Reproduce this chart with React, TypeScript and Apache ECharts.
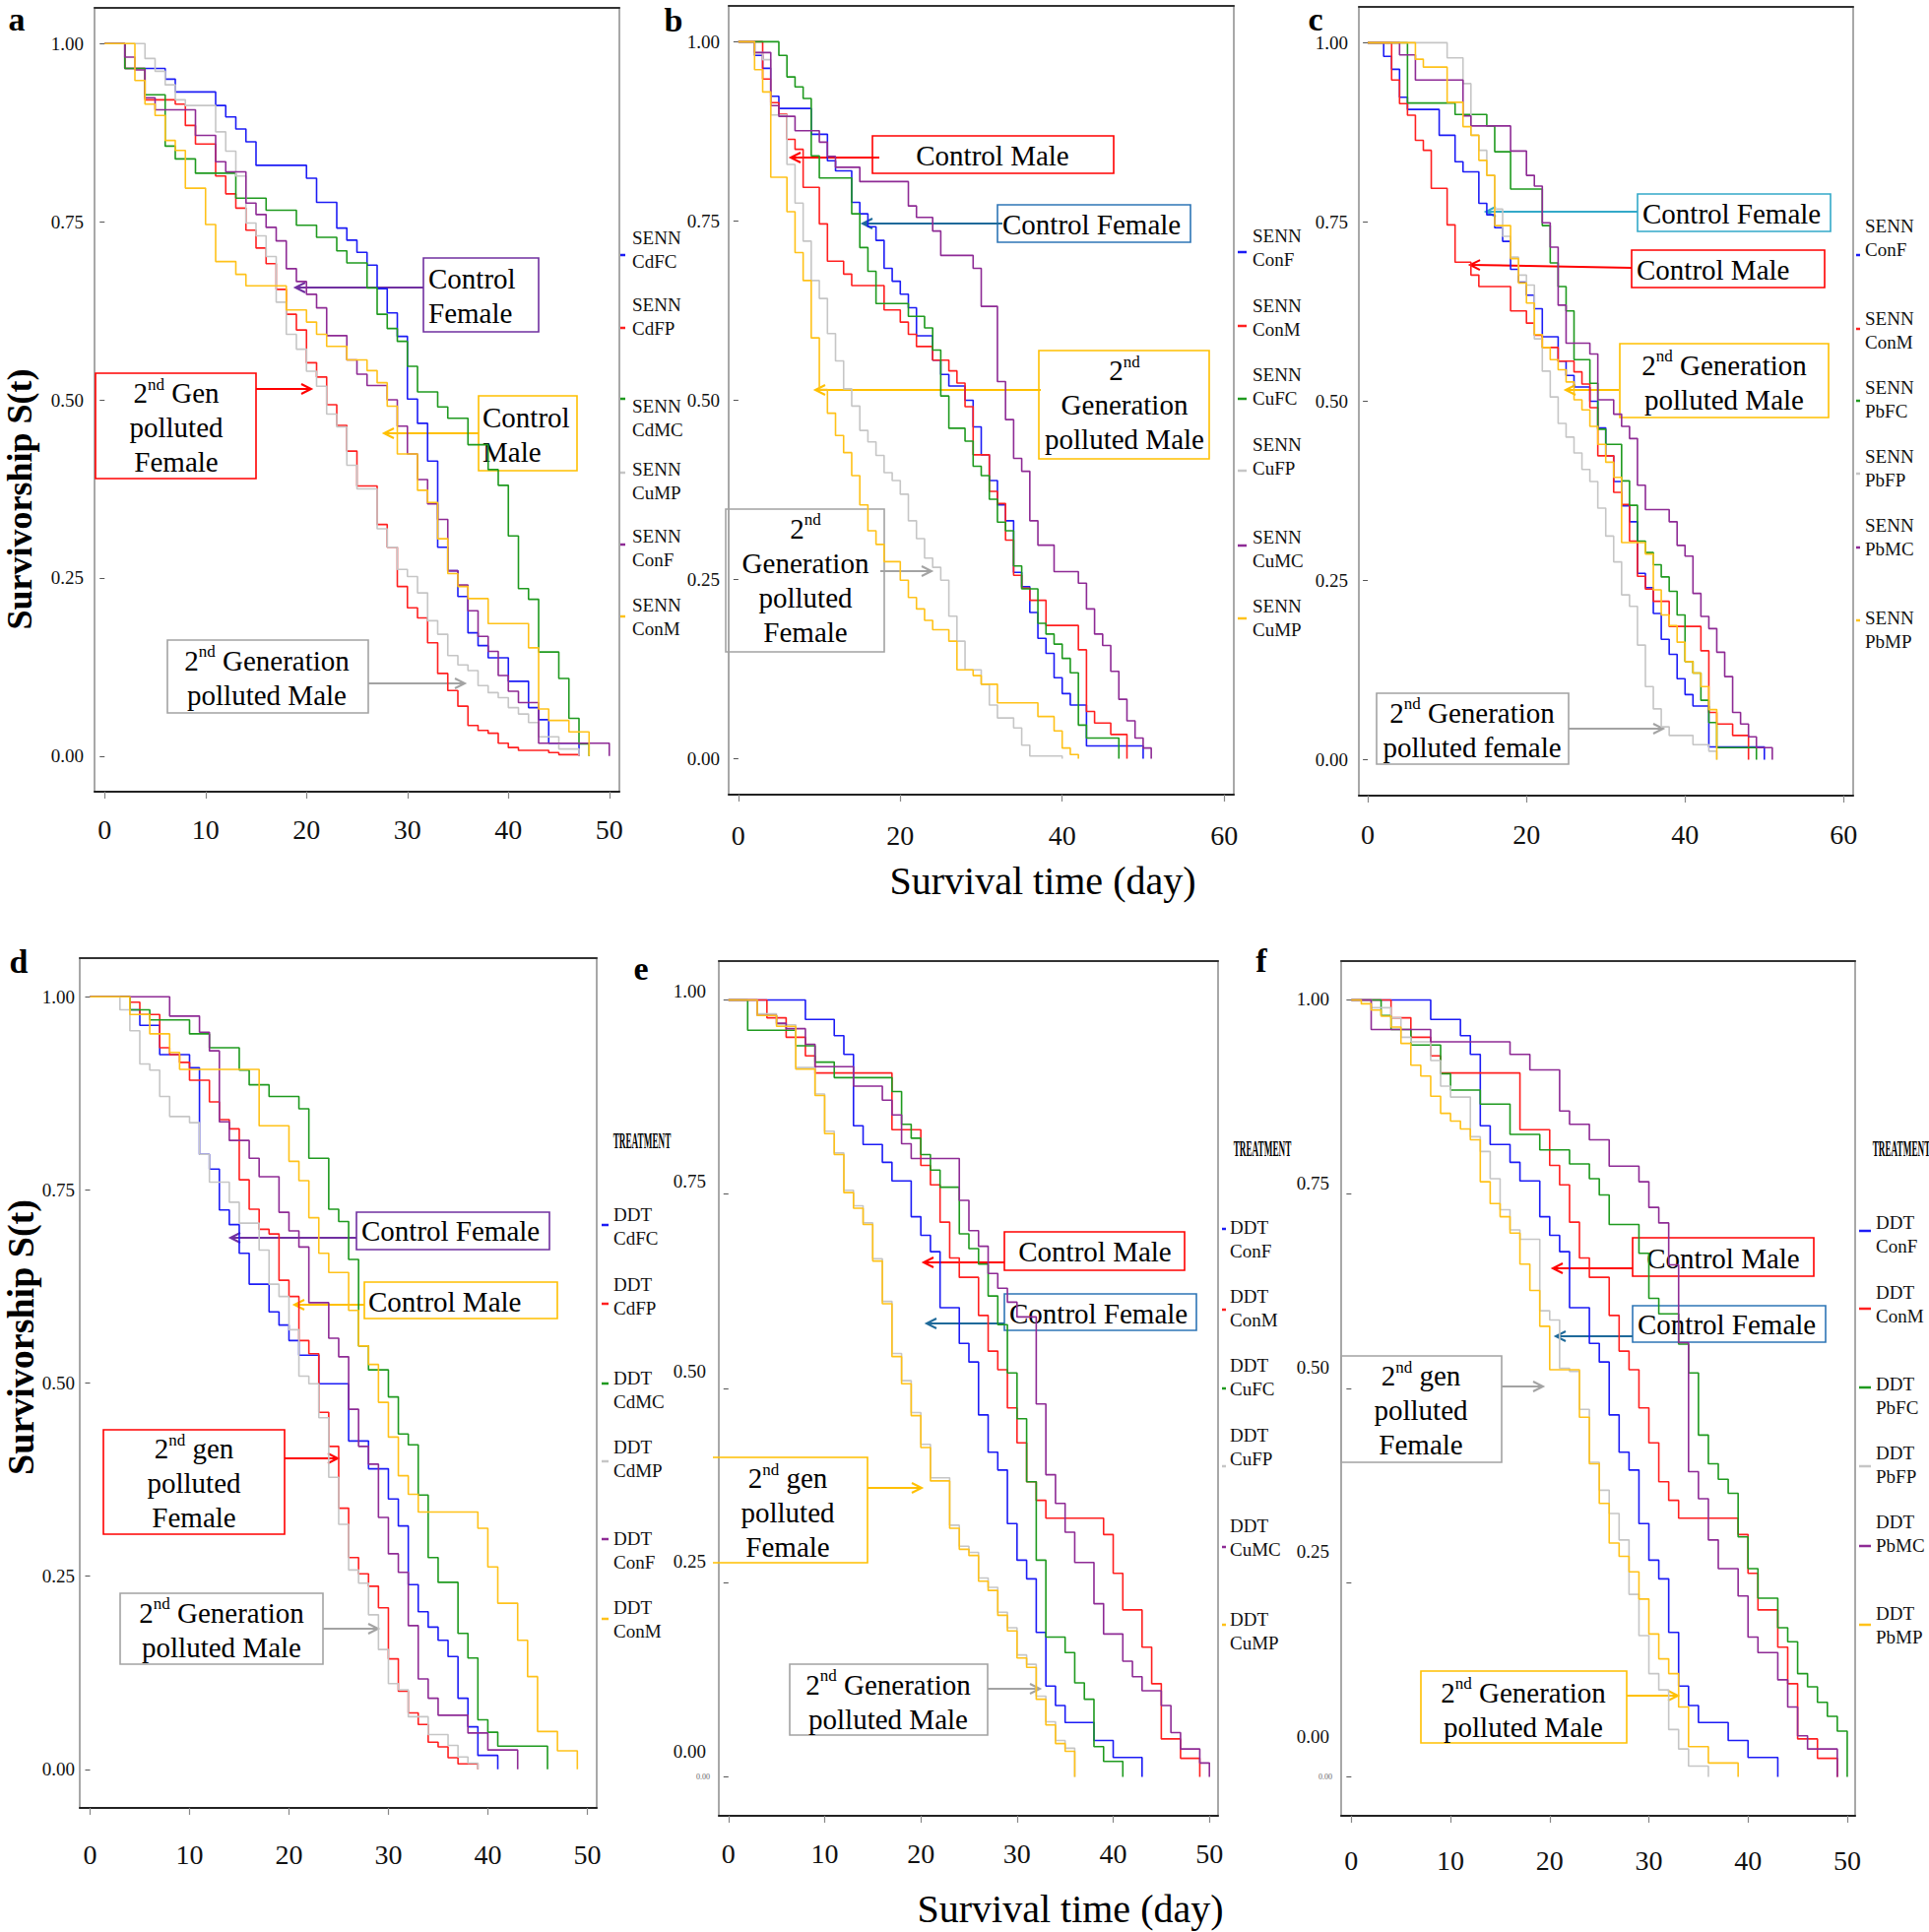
import React, { useEffect, useRef } from "react";
import * as echarts from "echarts";

type Pt = [number, number];

const SERIF = "'Liberation Serif', 'Times New Roman', serif";
const COLORS = ["#1c1cf5", "#ff2020", "#1f9a1f", "#c6c6c6", "#8e2b95", "#ffc21a"];

// ---------- shared controls ----------
const SENN_ConF: Pt[] = [[0,1],[2,0.981],[3,0.963],[4,0.924],[5,0.907],[9,0.871],[11,0.834],[12,0.82],[14,0.776],[15,0.76],[16,0.742],[17,0.723],[18,0.684],[19,0.666],[20,0.648],[21,0.629],[22,0.59],[24,0.556],[25,0.536],[26,0.52],[28,0.5],[29,0.463],[30,0.424],[31,0.388],[32,0.354],[33,0.332],[34,0.26],[35,0.24],[36,0.204],[37,0.168],[38,0.147],[39,0.113],[40,0.091],[41,0.075],[43,0.018],[50,0]];
const SENN_ConM: Pt[] = [[0,1],[3,0.948],[4,0.915],[5,0.899],[6,0.864],[7,0.85],[8,0.797],[10,0.746],[11,0.694],[13,0.676],[14,0.66],[18,0.626],[20,0.609],[21,0.592],[22,0.575],[24,0.556],[26,0.541],[27,0.524],[28,0.491],[29,0.424],[31,0.373],[32,0.356],[33,0.305],[34,0.256],[35,0.238],[36,0.221],[38,0.186],[42,0.152],[43,0.066],[44,0.05],[46,0.034],[48,0]];
const DDT_ConF: Pt[] = [[0,1],[8,0.975],[11,0.954],[12,0.93],[13,0.838],[14,0.814],[16,0.791],[17,0.767],[19,0.721],[20,0.697],[21,0.676],[22,0.604],[24,0.558],[25,0.534],[26,0.466],[27,0.418],[28,0.395],[29,0.326],[30,0.279],[31,0.255],[32,0.186],[33,0.117],[34,0.092],[35,0.07],[38,0.047],[40,0.025],[43,0]];
const DDT_ConM: Pt[] = [[0,1],[4,0.977],[6,0.952],[8,0.928],[9,0.906],[17,0.833],[20,0.787],[21,0.762],[22,0.714],[23,0.668],[24,0.643],[26,0.594],[27,0.548],[28,0.524],[29,0.475],[30,0.43],[31,0.38],[32,0.356],[33,0.333],[39,0.312],[40,0.262],[41,0.215],[43,0.167],[44,0.12],[45,0.049],[47,0.024],[49,0]];

// ---------- panel a (SENN, Cd) ----------
const a_CdFC: Pt[] = [[0,1],[2,0.965],[6,0.95],[7,0.932],[11,0.913],[12,0.897],[13,0.88],[14,0.862],[15,0.829],[20,0.811],[21,0.777],[23,0.741],[24,0.724],[25,0.707],[26,0.689],[27,0.656],[28,0.622],[29,0.589],[30,0.501],[31,0.467],[32,0.414],[33,0.293],[34,0.26],[35,0.224],[36,0.173],[37,0.155],[38,0.138],[40,0.105],[42,0.068],[43,0.051],[44,0.018],[47,0]];
const a_CdFP: Pt[] = [[0,1],[2,0.965],[4,0.921],[7,0.915],[8,0.885],[9,0.859],[11,0.814],[12,0.789],[13,0.769],[14,0.738],[15,0.713],[16,0.691],[17,0.655],[18,0.62],[19,0.598],[20,0.552],[21,0.532],[22,0.493],[23,0.464],[24,0.428],[25,0.379],[27,0.325],[28,0.293],[29,0.238],[30,0.208],[31,0.194],[32,0.159],[33,0.116],[34,0.092],[35,0.07],[36,0.043],[37,0.036],[38,0.032],[39,0.018],[40,0.012],[41,0.008],[44,0.005],[45,0.002],[47,0]];
const a_CdMC: Pt[] = [[0,1],[2,0.965],[4,0.928],[6,0.856],[7,0.838],[9,0.818],[13,0.783],[16,0.766],[19,0.745],[21,0.728],[23,0.709],[24,0.692],[26,0.657],[27,0.62],[28,0.6],[29,0.582],[30,0.547],[31,0.511],[33,0.49],[34,0.474],[36,0.437],[38,0.402],[39,0.38],[40,0.309],[41,0.235],[42,0.22],[43,0.146],[45,0.109],[46,0.053],[47,0.017],[48,0]];
const a_CuMP: Pt[] = [[0,1],[4,0.979],[5,0.961],[6,0.942],[7,0.921],[8,0.913],[11,0.876],[12,0.849],[13,0.814],[14,0.748],[15,0.73],[16,0.701],[17,0.637],[18,0.592],[19,0.571],[20,0.54],[21,0.519],[22,0.48],[23,0.462],[24,0.408],[25,0.375],[27,0.319],[28,0.293],[29,0.262],[30,0.252],[31,0.229],[32,0.19],[33,0.171],[34,0.141],[35,0.128],[36,0.12],[37,0.099],[38,0.089],[39,0.082],[40,0.068],[41,0.059],[42,0.047],[43,0.027],[45,0.01],[47,0]];

// ---------- panel b (SENN, Cu) ----------
const b_CuFC: Pt[] = [[0,1],[5,0.981],[6,0.951],[7,0.937],[8,0.921],[9,0.841],[10,0.81],[14,0.76],[15,0.713],[16,0.68],[17,0.635],[21,0.617],[23,0.601],[24,0.57],[25,0.506],[26,0.461],[28,0.443],[29,0.408],[30,0.395],[31,0.362],[32,0.33],[33,0.318],[34,0.269],[35,0.237],[37,0.189],[38,0.174],[39,0.16],[40,0.14],[41,0.12],[42,0.047],[43,0.029],[47,0]];
const b_CuFP: Pt[] = [[0,1],[2,0.985],[3,0.975],[4,0.898],[6,0.829],[7,0.775],[8,0.722],[9,0.667],[10,0.642],[11,0.593],[12,0.555],[13,0.516],[14,0.492],[15,0.458],[16,0.442],[17,0.423],[18,0.399],[19,0.388],[20,0.369],[21,0.332],[22,0.307],[23,0.28],[24,0.267],[25,0.249],[26,0.199],[27,0.164],[28,0.124],[30,0.104],[31,0.075],[32,0.057],[34,0.043],[35,0.019],[36,0.004],[40,0]];
const b_CuMC: Pt[] = [[0,1],[2,0.985],[4,0.911],[5,0.896],[7,0.876],[10,0.86],[11,0.84],[12,0.825],[15,0.805],[21,0.771],[22,0.755],[24,0.736],[25,0.702],[29,0.684],[30,0.631],[32,0.526],[33,0.473],[34,0.419],[35,0.401],[36,0.332],[37,0.298],[39,0.261],[42,0.245],[43,0.209],[44,0.174],[45,0.158],[46,0.122],[47,0.083],[48,0.053],[49,0.029],[50,0.015],[51,0]];
const b_CuMP: Pt[] = [[0,1],[2,0.961],[3,0.93],[4,0.811],[6,0.763],[7,0.706],[8,0.667],[9,0.587],[10,0.515],[11,0.482],[12,0.451],[13,0.427],[14,0.395],[15,0.354],[16,0.318],[17,0.299],[18,0.275],[20,0.249],[21,0.225],[22,0.209],[23,0.193],[24,0.18],[26,0.164],[27,0.124],[29,0.116],[30,0.104],[32,0.078],[37,0.059],[39,0.039],[40,0.015],[41,0.006],[42,0]];

// ---------- panel c (SENN, Pb) ----------
const c_PbFC: Pt[] = [[0,1],[5,0.916],[11,0.9],[15,0.884],[16,0.848],[18,0.796],[22,0.745],[23,0.693],[24,0.66],[25,0.626],[26,0.558],[28,0.525],[29,0.461],[30,0.44],[32,0.389],[33,0.355],[34,0.305],[35,0.289],[36,0.272],[37,0.255],[38,0.235],[39,0.202],[40,0.137],[41,0.121],[42,0.083],[43,0.052],[44,0.017],[49,0]];
const c_PbFP: Pt[] = [[0,1],[10,0.979],[12,0.943],[13,0.871],[14,0.85],[15,0.815],[16,0.768],[17,0.73],[18,0.701],[19,0.676],[20,0.662],[21,0.587],[22,0.542],[23,0.506],[24,0.469],[25,0.45],[26,0.428],[27,0.405],[28,0.388],[29,0.351],[30,0.312],[31,0.276],[32,0.23],[33,0.214],[34,0.16],[35,0.102],[36,0.071],[37,0.046],[38,0.034],[41,0.021],[43,0.012],[44,0]];
const c_PbMC: Pt[] = [[0,1],[4,0.983],[6,0.948],[12,0.898],[13,0.884],[18,0.849],[20,0.815],[21,0.8],[22,0.749],[23,0.715],[24,0.634],[25,0.581],[28,0.566],[29,0.502],[31,0.482],[32,0.465],[33,0.448],[34,0.383],[35,0.349],[38,0.332],[39,0.299],[40,0.284],[41,0.232],[42,0.2],[43,0.183],[44,0.15],[45,0.116],[46,0.066],[47,0.05],[48,0.032],[49,0.017],[51,0]];
const c_PbMP: Pt[] = [[0,1],[6,0.977],[7,0.966],[10,0.917],[12,0.883],[13,0.871],[14,0.836],[15,0.815],[16,0.745],[18,0.699],[19,0.665],[20,0.637],[21,0.593],[22,0.575],[23,0.558],[24,0.544],[25,0.527],[26,0.502],[27,0.488],[28,0.465],[29,0.44],[30,0.415],[31,0.394],[32,0.303],[35,0.287],[36,0.237],[37,0.202],[38,0.187],[39,0.164],[40,0.137],[41,0.121],[42,0.102],[43,0.07],[44,0]];

// ---------- panel d (DDT, Cd) ----------
const d_CdFC: Pt[] = [[0,1],[4,0.983],[5,0.963],[7,0.925],[10,0.908],[11,0.796],[12,0.777],[13,0.724],[14,0.705],[15,0.668],[16,0.628],[18,0.592],[19,0.575],[20,0.555],[21,0.536],[23,0.499],[26,0.425],[28,0.389],[30,0.35],[31,0.315],[32,0.239],[33,0.204],[34,0.184],[35,0.167],[36,0.146],[37,0.092],[38,0.055],[39,0.018],[41,0]];
const d_CdFP: Pt[] = [[0,1],[4,0.993],[5,0.977],[7,0.934],[8,0.925],[9,0.915],[10,0.892],[12,0.864],[13,0.841],[14,0.829],[15,0.763],[16,0.725],[17,0.699],[18,0.693],[19,0.633],[20,0.612],[21,0.555],[22,0.538],[23,0.462],[24,0.418],[25,0.338],[26,0.274],[27,0.253],[28,0.237],[29,0.209],[30,0.143],[31,0.101],[32,0.073],[33,0.058],[34,0.035],[35,0.029],[36,0.015],[37,0.007],[39,0]];
const d_CdMC: Pt[] = [[0,1],[4,0.983],[6,0.97],[10,0.952],[12,0.934],[15,0.905],[16,0.886],[18,0.871],[21,0.855],[22,0.791],[24,0.725],[25,0.709],[26,0.66],[27,0.548],[28,0.517],[30,0.482],[31,0.434],[32,0.42],[33,0.355],[34,0.274],[35,0.242],[37,0.176],[38,0.144],[39,0.064],[40,0.048],[41,0.03],[46,0]];
const d_CdMP: Pt[] = [[0,1],[3,0.983],[4,0.956],[5,0.913],[6,0.905],[7,0.871],[8,0.845],[10,0.837],[11,0.796],[12,0.76],[14,0.734],[15,0.707],[17,0.672],[18,0.628],[19,0.612],[20,0.569],[21,0.509],[22,0.499],[23,0.455],[24,0.378],[25,0.317],[26,0.258],[27,0.241],[28,0.2],[29,0.155],[30,0.111],[31,0.103],[32,0.068],[34,0.045],[36,0.031],[37,0.016],[38,0.008],[39,0]];

// ---------- panel e (DDT, Cu) ----------
const e_CuFC: Pt[] = [[0,1],[2,0.961],[7,0.941],[9,0.92],[11,0.9],[17,0.882],[18,0.84],[19,0.822],[20,0.801],[21,0.781],[22,0.759],[24,0.699],[25,0.68],[26,0.66],[27,0.619],[28,0.582],[29,0.52],[30,0.461],[31,0.38],[32,0.279],[33,0.18],[35,0.16],[36,0.121],[37,0.1],[38,0.039],[39,0.02],[41,0]];
const e_CuFP: Pt[] = [[0,1],[3,0.982],[5,0.968],[7,0.913],[9,0.879],[10,0.831],[11,0.803],[12,0.755],[13,0.735],[14,0.713],[15,0.667],[16,0.612],[17,0.545],[18,0.51],[19,0.469],[20,0.428],[21,0.385],[23,0.324],[24,0.297],[25,0.289],[26,0.256],[27,0.244],[28,0.212],[29,0.192],[30,0.157],[31,0.145],[32,0.104],[33,0.071],[34,0.047],[35,0.037],[36,0]];
const e_CuMC: Pt[] = [[0,1],[3,0.98],[5,0.97],[6,0.963],[8,0.943],[9,0.914],[13,0.889],[16,0.871],[17,0.852],[18,0.815],[19,0.796],[24,0.742],[25,0.703],[26,0.683],[27,0.648],[28,0.629],[29,0.611],[30,0.592],[32,0.48],[33,0.389],[34,0.352],[35,0.315],[36,0.276],[38,0.223],[39,0.184],[41,0.149],[42,0.129],[43,0.111],[45,0.092],[46,0.057],[47,0.036],[49,0.018],[50,0]];
const e_CuMP: Pt[] = [[0,1],[3,0.98],[5,0.966],[7,0.911],[9,0.877],[10,0.828],[11,0.801],[12,0.752],[13,0.732],[14,0.711],[15,0.664],[16,0.609],[17,0.541],[18,0.506],[19,0.465],[20,0.424],[21,0.381],[23,0.32],[24,0.293],[25,0.285],[26,0.252],[27,0.24],[28,0.208],[29,0.188],[30,0.153],[31,0.141],[32,0.1],[33,0.067],[34,0.043],[35,0.033],[36,0]];

// ---------- panel f (DDT, Pb) ----------
const f_PbFC: Pt[] = [[0,1],[3,0.98],[4,0.962],[6,0.942],[9,0.905],[10,0.884],[13,0.866],[16,0.827],[19,0.807],[22,0.789],[24,0.77],[25,0.749],[26,0.711],[29,0.674],[30,0.616],[31,0.596],[33,0.557],[34,0.52],[35,0.44],[36,0.403],[37,0.383],[38,0.365],[39,0.309],[40,0.268],[41,0.23],[43,0.192],[44,0.174],[45,0.133],[46,0.116],[47,0.096],[48,0.078],[49,0.059],[50,0]];
const f_PbFP: Pt[] = [[0,1],[2,0.99],[4,0.977],[5,0.952],[6,0.946],[8,0.922],[9,0.889],[10,0.875],[12,0.824],[13,0.805],[14,0.77],[15,0.73],[16,0.704],[17,0.692],[19,0.6],[20,0.588],[21,0.526],[22,0.522],[23,0.473],[24,0.405],[25,0.369],[26,0.339],[27,0.305],[28,0.235],[29,0.182],[30,0.133],[31,0.112],[32,0.061],[33,0.036],[34,0.014],[36,0]];
const f_PbMC: Pt[] = [[0,1],[2,0.962],[8,0.946],[16,0.93],[18,0.91],[21,0.857],[22,0.84],[24,0.82],[26,0.786],[29,0.766],[30,0.733],[31,0.713],[32,0.659],[33,0.559],[34,0.393],[35,0.358],[36,0.305],[37,0.268],[39,0.233],[40,0.18],[41,0.16],[43,0.125],[44,0.09],[45,0.053],[46,0.036],[49,0]];
const f_PbMP: Pt[] = [[0,1],[1,0.995],[2,0.987],[3,0.979],[4,0.965],[5,0.944],[6,0.916],[7,0.902],[8,0.876],[9,0.854],[10,0.844],[11,0.834],[12,0.82],[13,0.766],[14,0.738],[15,0.721],[16,0.7],[17,0.66],[18,0.626],[19,0.58],[20,0.524],[23,0.463],[24,0.403],[25,0.352],[26,0.301],[27,0.284],[28,0.264],[29,0.229],[30,0.184],[31,0.152],[32,0.133],[33,0.09],[34,0.039],[36,0.018],[39,0]];

// ---------- legend labels & ticks ----------
const LEG_A = ["SENN\nCdFC", "SENN\nCdFP", "SENN\nCdMC", "SENN\nCuMP", "SENN\nConF", "SENN\nConM"];
const LEG_B = ["SENN\nConF", "SENN\nConM", "SENN\nCuFC", "SENN\nCuFP", "SENN\nCuMC", "SENN\nCuMP"];
const LEG_C = ["SENN\nConF", "SENN\nConM", "SENN\nPbFC", "SENN\nPbFP", "SENN\nPbMC", "SENN\nPbMP"];
const LEG_D = ["DDT\nCdFC", "DDT\nCdFP", "DDT\nCdMC", "DDT\nCdMP", "DDT\nConF", "DDT\nConM"];
const LEG_E = ["DDT\nConF", "DDT\nConM", "DDT\nCuFC", "DDT\nCuFP", "DDT\nCuMC", "DDT\nCuMP"];
const LEG_F = ["DDT\nConF", "DDT\nConM", "DDT\nPbFC", "DDT\nPbFP", "DDT\nPbMC", "DDT\nPbMP"];
const X50 = [0, 10, 20, 30, 40, 50];
const X60 = [0, 20, 40, 60];
const Y_TICKS = [0, 0.25, 0.5, 0.75, 1];

interface Panel {
  letter: string; lx: number; ly: number;
  grid: { left: number; top: number; width: number; height: number };
  xMin: number; xMax: number; xTicks: number[]; xMargin: number; yMargin: number;
  labelAxis?: [number, number];
  series: Pt[][]; names: string[];
  legX: number; legY: number[]; dashX: [number, number]; dashY: number[];
  treatment?: [number, number];
}

const PANELS: Panel[] = [
  { letter: "a", lx: 17, ly: 19, grid: { left: 96, top: 8, width: 533, height: 796 }, xMin: -1, xMax: 51, xTicks: X50, xMargin: 24, yMargin: 11,
    series: [a_CdFC, a_CdFP, a_CdMC, a_CuMP, SENN_ConF, SENN_ConM], names: LEG_A,
    legX: 642, legY: [242, 310, 413, 477, 545, 615], dashX: [630, 635], dashY: [259, 333, 405, 480, 553, 626] },
  { letter: "b", lx: 684, ly: 20, grid: { left: 740, top: 6, width: 513, height: 801 }, xMin: -1.2, xMax: 61.2, xTicks: X60, xMargin: 27, yMargin: 9,
    series: [SENN_ConF, SENN_ConM, b_CuFC, b_CuFP, b_CuMC, b_CuMP], names: LEG_B,
    legX: 1272, legY: [240, 311, 381, 452, 546, 616], dashX: [1257, 1266], dashY: [256, 331, 405, 478, 554, 628] },
  { letter: "c", lx: 1336, ly: 19, grid: { left: 1380, top: 7, width: 502, height: 801 }, xMin: -1.13, xMax: 61.2, xTicks: X60, xMargin: 25, yMargin: 11,
    series: [SENN_ConF, SENN_ConM, c_PbFC, c_PbFP, c_PbMC, c_PbMP], names: LEG_C,
    legX: 1894, legY: [230, 324, 394, 464, 534, 628], dashX: [1885, 1889], dashY: [259, 334, 407, 481, 556, 630] },
  { letter: "d", lx: 19, ly: 976, grid: { left: 81, top: 973, width: 525, height: 863 }, xMin: -1.04, xMax: 50.95, xTicks: X50, xMargin: 33, yMargin: 5,
    series: [d_CdFC, d_CdFP, d_CdMC, d_CdMP, DDT_ConF, DDT_ConM], names: LEG_D,
    legX: 623, legY: [1234, 1305, 1400, 1470, 1563, 1633], dashX: [611, 618], dashY: [1244, 1324, 1405, 1484, 1563, 1644], treatment: [652, 1158] },
  { letter: "e", lx: 651, ly: 983, grid: { left: 730, top: 976, width: 507, height: 868 }, xMin: -1, xMax: 50.9, xTicks: X50, xMargin: 24, yMargin: 13,
    labelAxis: [-0.0842, 1.0399],
    series: [DDT_ConF, DDT_ConM, e_CuFC, e_CuFP, e_CuMC, e_CuMP], names: LEG_E,
    legX: 1249, legY: [1247, 1317, 1387, 1458, 1550, 1645], dashX: [1241, 1245], dashY: [1248, 1330, 1410, 1489, 1571, 1650], treatment: [1282, 1166] },
  { letter: "f", lx: 1281, ly: 975, grid: { left: 1362, top: 976, width: 522, height: 868 }, xMin: -1.03, xMax: 50.8, xTicks: X50, xMargin: 31, yMargin: 12,
    labelAxis: [-0.1082, 1.0514],
    series: [DDT_ConF, DDT_ConM, f_PbFC, f_PbFP, f_PbMC, f_PbMP], names: LEG_F,
    legX: 1905, legY: [1242, 1313, 1406, 1476, 1546, 1639], dashX: [1888, 1900], dashY: [1250, 1329, 1409, 1489, 1570, 1650], treatment: [1931, 1166] },
];

// ---------- annotations ----------
const PURPLE = "#7030a0", YELLOW = "#ffc000", RED = "#ff0000", GRAY = "#a3a3a3", BLUE = "#2e75b6", TEAL = "#33a9c9";
interface Note { box: [number, number, number, number]; color: string; text: string; tx: number; ty: number; align: "left" | "center"; arrow: [number, number, number, number]; arrowColor?: string; openLeft?: boolean }
const G2 = "{b|2}{s|nd}";
const NOTES: Note[] = [
  // a
  { box: [430, 262, 117, 75], color: PURPLE, text: "{b|Control}\n{b|Female}", tx: 435, ty: 300, align: "left", arrow: [430, 292, 300, 292] },
  { box: [486, 402, 100, 76], color: YELLOW, text: "{b|Control}\n{b|Male}", tx: 490, ty: 441, align: "left", arrow: [486, 440, 390, 440] },
  { box: [97, 379, 163, 107], color: RED, text: G2 + "{b| Gen}\n{b|polluted}\n{b|Female}", tx: 179, ty: 434, align: "center", arrow: [260, 395, 316, 395] },
  { box: [170, 650, 204, 74], color: GRAY, text: G2 + "{b| Generation}\n{b|polluted Male}", tx: 271, ty: 688, align: "center", arrow: [374, 694, 472, 694] },
  // b
  { box: [886, 138, 245, 38], color: RED, text: "{b|Control Male}", tx: 1008, ty: 158, align: "center", arrow: [893, 160, 803, 160] },
  { box: [1013, 208, 196, 38], color: BLUE, text: "{b|Control Female}", tx: 1018, ty: 228, align: "left", arrow: [1018, 227, 876, 227], arrowColor: "#1f6a9a" },
  { box: [1055, 356, 173, 110], color: YELLOW, text: G2 + "\n{b|Generation}\n{b|polluted Male}", tx: 1142, ty: 411, align: "center", arrow: [1057, 396, 828, 396] },
  { box: [737, 517, 161, 145], color: GRAY, text: G2 + "\n{b|Generation}\n{b|polluted}\n{b|Female}", tx: 818, ty: 589, align: "center", arrow: [894, 580, 946, 580] },
  // c
  { box: [1663, 197, 196, 38], color: TEAL, text: "{b|Control Female}", tx: 1668, ty: 217, align: "left", arrow: [1663, 215, 1509, 215] },
  { box: [1657, 254, 196, 38], color: RED, text: "{b|Control Male}", tx: 1662, ty: 274, align: "left", arrow: [1657, 272, 1493, 269] },
  { box: [1645, 349, 212, 75], color: YELLOW, text: G2 + "{b| Generation}\n{b|polluted Male}", tx: 1751, ty: 388, align: "center", arrow: [1644, 396, 1590, 396] },
  { box: [1398, 704, 195, 72], color: GRAY, text: G2 + "{b| Generation}\n{b|polluted female}", tx: 1495, ty: 741, align: "center", arrow: [1593, 740, 1689, 740] },
  // d
  { box: [362, 1231, 196, 38], color: PURPLE, text: "{b|Control Female}", tx: 367, ty: 1250, align: "left", arrow: [362, 1257, 234, 1257] },
  { box: [370, 1302, 196, 37], color: YELLOW, text: "{b|Control Male}", tx: 374, ty: 1322, align: "left", arrow: [370, 1325, 299, 1325] },
  { box: [105, 1452, 184, 106], color: RED, text: G2 + "{b| gen}\n{b|polluted}\n{b|Female}", tx: 197, ty: 1506, align: "center", arrow: [289, 1481, 343, 1481] },
  { box: [122, 1618, 206, 72], color: GRAY, text: G2 + "{b| Generation}\n{b|polluted Male}", tx: 225, ty: 1655, align: "center", arrow: [328, 1654, 384, 1654] },
  // e
  { box: [1020, 1251, 183, 39], color: RED, text: "{b|Control Male}", tx: 1112, ty: 1271, align: "center", arrow: [1020, 1282, 938, 1282] },
  { box: [1020, 1314, 195, 37], color: BLUE, text: "{b|Control Female}", tx: 1025, ty: 1334, align: "left", arrow: [1020, 1344, 941, 1344], arrowColor: "#1f6a9a" },
  { box: [724, 1480, 157, 107], color: YELLOW, text: G2 + "{b| gen}\n{b|polluted}\n{b|Female}", tx: 800, ty: 1536, align: "center", arrow: [881, 1511, 936, 1511], openLeft: true },
  { box: [802, 1690, 201, 72], color: GRAY, text: G2 + "{b| Generation}\n{b|polluted Male}", tx: 902, ty: 1728, align: "center", arrow: [1003, 1715, 1056, 1715] },
  // f
  { box: [1658, 1257, 184, 39], color: RED, text: "{b|Control Male}", tx: 1750, ty: 1278, align: "center", arrow: [1658, 1288, 1577, 1288] },
  { box: [1658, 1326, 196, 37], color: BLUE, text: "{b|Control Female}", tx: 1663, ty: 1345, align: "left", arrow: [1658, 1357, 1580, 1357], arrowColor: "#1f6a9a" },
  { box: [1362, 1377, 163, 108], color: GRAY, text: G2 + "{b| gen}\n{b|polluted}\n{b|Female}", tx: 1443, ty: 1432, align: "center", arrow: [1525, 1408, 1567, 1408] },
  { box: [1443, 1697, 209, 73], color: YELLOW, text: G2 + "{b| Generation}\n{b|polluted Male}", tx: 1547, ty: 1736, align: "center", arrow: [1652, 1722, 1704, 1722] },
];

const RICH = {
  b: { fontSize: 29, fontFamily: SERIF, fill: "#000", color: "#000", lineHeight: 35 },
  s: { fontSize: 17, fontFamily: SERIF, fill: "#000", color: "#000", lineHeight: 19, verticalAlign: "top" },
};

function arrowEls(a: [number, number, number, number], color: string) {
  const [x1, y1, x2, y2] = a;
  const dx = x2 - x1, dy = y2 - y1;
  const len = Math.hypot(dx, dy) || 1;
  const ux = dx / len, uy = dy / len;
  const hl = 10, hw = 5;
  const bx = x2 - ux * hl, by = y2 - uy * hl;
  return [
    { type: "line", silent: true, shape: { x1, y1, x2, y2 }, style: { stroke: color, lineWidth: 2 } },
    { type: "polyline", silent: true, shape: { points: [[bx - uy * hw, by + ux * hw], [x2, y2], [bx + uy * hw, by - ux * hw]] }, style: { stroke: color, lineWidth: 2, fill: null } },
  ];
}

function noteEls(n: Note) {
  const [x, y, w, h] = n.box;
  const els: any[] = [];
  if (n.openLeft) {
    els.push({ type: "polyline", silent: true, shape: { points: [[x, y], [x + w, y], [x + w, y + h], [x, y + h]] }, style: { stroke: n.color, lineWidth: 1.6, fill: null } });
  } else {
    els.push({ type: "rect", silent: true, shape: { x, y, width: w, height: h }, style: { stroke: n.color, lineWidth: 1.6, fill: null } });
  }
  els.push({
    type: "text", silent: true, x: n.tx, y: n.ty,
    style: { text: n.text, rich: RICH, align: n.align, textAlign: n.align, verticalAlign: "middle", textVerticalAlign: "middle", fontFamily: SERIF, fontSize: 29, fill: "#000" },
  });
  els.push(...arrowEls(n.arrow, n.arrowColor || n.color));
  return els;
}

function buildOption() {
  const grids: any[] = [];
  const xAxes: any[] = [];
  const yAxes: any[] = [];
  const series: any[] = [];
  const graphics: any[] = [];

  PANELS.forEach((p, gi) => {
    grids.push({ ...p.grid, show: true, borderColor: "#8c8c8c", borderWidth: 1.5, backgroundColor: "transparent", containLabel: false, outerBoundsMode: "none" });
    xAxes.push({
      type: "value", gridIndex: gi, min: p.xMin, max: p.xMax, position: "bottom",
      axisLine: { show: true, onZero: false, lineStyle: { color: "#222", width: 2 } },
      axisTick: { show: true, customValues: p.xTicks, length: 7, lineStyle: { color: "#888", width: 1.2 } },
      axisLabel: { customValues: p.xTicks, margin: p.xMargin, fontSize: 28, fontFamily: SERIF, color: "#111", formatter: (v: number) => String(Math.round(v)) },
      splitLine: { show: false },
    });
  });
  PANELS.forEach((p, gi) => {
    xAxes.push({
      type: "value", gridIndex: gi, min: p.xMin, max: p.xMax, position: "top",
      axisLine: { show: true, onZero: false, lineStyle: { color: "#333", width: 2 } },
      axisTick: { show: false }, axisLabel: { show: false }, splitLine: { show: false },
    });
  });
  PANELS.forEach((p, gi) => {
    const shift = !!p.labelAxis;
    yAxes.push({
      type: "value", gridIndex: gi, min: -0.05, max: 1.05, position: "left",
      axisLine: { show: false },
      axisTick: { show: true, customValues: Y_TICKS, length: 5, lineStyle: { color: "#555", width: 1 } },
      axisLabel: shift
        ? { customValues: [0], margin: 9, fontSize: 8, fontFamily: SERIF, color: "#666", formatter: (v: number) => v.toFixed(2) }
        : { customValues: Y_TICKS, margin: p.yMargin, fontSize: 19, fontFamily: SERIF, color: "#111", formatter: (v: number) => v.toFixed(2) },
      splitLine: { show: false },
    });
  });
  PANELS.forEach((p, gi) => {
    if (!p.labelAxis) return;
    yAxes.push({
      type: "value", gridIndex: gi, min: p.labelAxis[0], max: p.labelAxis[1], position: "left", offset: 0,
      axisLine: { show: false }, axisTick: { show: false }, splitLine: { show: false },
      axisLabel: { customValues: Y_TICKS, margin: p.yMargin, fontSize: 19, fontFamily: SERIF, color: "#111", formatter: (v: number) => v.toFixed(2) },
    });
  });

  PANELS.forEach((p, gi) => {
    p.series.forEach((data, si) => {
      series.push({
        name: p.letter + " " + p.names[si].replace("\n", " "),
        type: "line", step: "end", xAxisIndex: gi, yAxisIndex: gi,
        data, showSymbol: false, symbol: "none", silent: true,
        lineStyle: { color: COLORS[si], width: 1.6 }, itemStyle: { color: COLORS[si] },
      });
    });
    // legend
    p.names.forEach((nm, si) => {
      graphics.push({ type: "text", silent: true, x: p.legX, y: p.legY[si] - 12,
        style: { text: nm, fontSize: 19, fontFamily: SERIF, fill: "#111", lineHeight: 23.5, align: "left", textAlign: "left", verticalAlign: "top", textVerticalAlign: "top" } });
      graphics.push({ type: "line", silent: true, shape: { x1: p.dashX[0], y1: p.dashY[si], x2: p.dashX[1], y2: p.dashY[si] }, style: { stroke: COLORS[si], lineWidth: 2.5 } });
    });
    if (p.treatment) {
      graphics.push({ type: "text", silent: true, x: p.treatment[0], y: p.treatment[1], scaleX: 0.4,
        style: { text: "TREATMENT", fontSize: 23, fontWeight: "bold", fontFamily: SERIF, fill: "#000", align: "center", textAlign: "center", verticalAlign: "middle", textVerticalAlign: "middle" } });
    }
    graphics.push({ type: "text", silent: true, x: p.lx, y: p.ly,
      style: { text: p.letter, fontSize: 34, lineHeight: 34, fontWeight: "bold", fontFamily: SERIF, fill: "#000", align: "center", textAlign: "center", verticalAlign: "middle", textVerticalAlign: "middle" } });
  });

  NOTES.forEach((n) => graphics.push(...noteEls(n)));

  // axis titles
  graphics.push({ type: "text", silent: true, x: 20, y: 507, rotation: Math.PI / 2,
    style: { text: "Survivorship S(t)", fontSize: 36, lineHeight: 36, fontWeight: "bold", fontFamily: SERIF, fill: "#000", align: "center", textAlign: "center", verticalAlign: "middle", textVerticalAlign: "middle" } });
  graphics.push({ type: "text", silent: true, x: 21, y: 1358, rotation: Math.PI / 2,
    style: { text: "Survivorship S(t)", fontSize: 38, lineHeight: 38, fontWeight: "bold", fontFamily: SERIF, fill: "#000", align: "center", textAlign: "center", verticalAlign: "middle", textVerticalAlign: "middle" } });
  graphics.push({ type: "text", silent: true, x: 1059, y: 894,
    style: { text: "Survival time (day)", fontSize: 40, fontFamily: SERIF, fill: "#000", align: "center", textAlign: "center", verticalAlign: "middle", textVerticalAlign: "middle" } });
  graphics.push({ type: "text", silent: true, x: 1087, y: 1938,
    style: { text: "Survival time (day)", fontSize: 40, fontFamily: SERIF, fill: "#000", align: "center", textAlign: "center", verticalAlign: "middle", textVerticalAlign: "middle" } });

  return {
    animation: false,
    backgroundColor: "#ffffff",
    textStyle: { fontFamily: SERIF },
    grid: grids,
    xAxis: xAxes,
    yAxis: yAxes,
    series,
    graphic: { elements: graphics },
  };
}

export default function App() {
  const ref = useRef<HTMLDivElement>(null);
  useEffect(() => {
    if (!ref.current) return;
    const chart = echarts.init(ref.current, undefined, { renderer: "svg", width: 1959, height: 1962 });
    chart.setOption(buildOption() as any);
    return () => chart.dispose();
  }, []);
  return <div ref={ref} style={{ position: "absolute", left: 0, top: 0, width: 1959, height: 1962, background: "#fff" }} />;
}
